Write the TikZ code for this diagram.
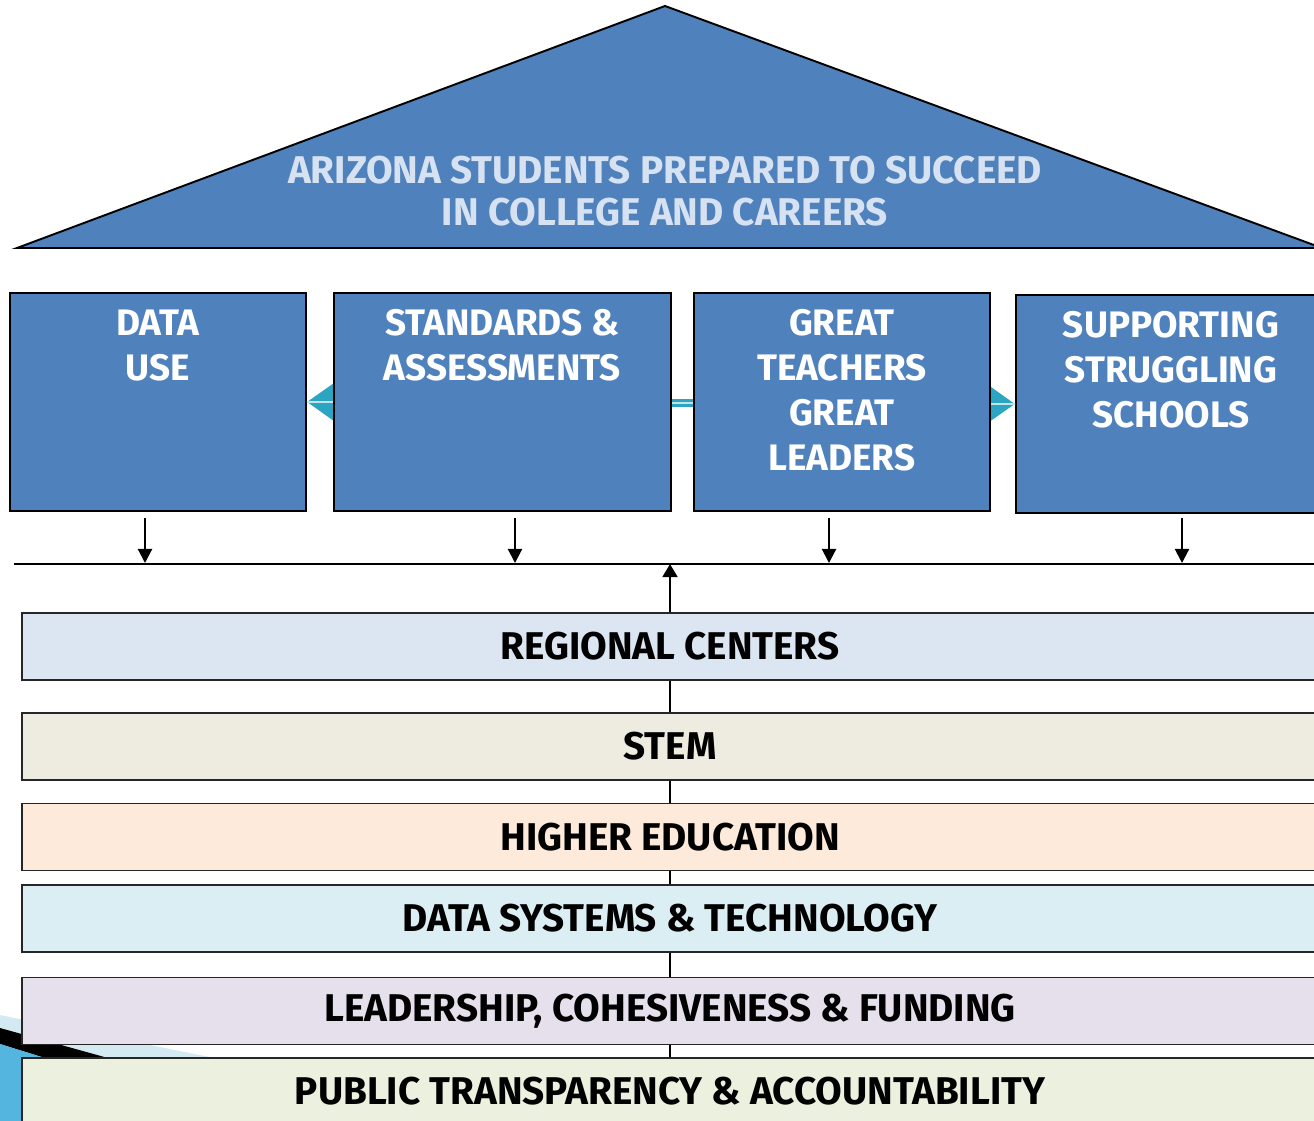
\documentclass[tikz,border=0pt]{standalone}
\usepackage{fontspec}
\setmainfont{Fira Sans}
\usetikzlibrary{arrows.meta,positioning}
\definecolor{roofblue}{RGB}{79,129,189}
\definecolor{rooftext}{RGB}{214,226,242}
\definecolor{linkteal}{RGB}{43,165,193}
\definecolor{regionfill}{RGB}{220,230,242}
\definecolor{stemfill}{RGB}{238,236,225}
\definecolor{higherfill}{RGB}{253,234,218}
\definecolor{datafill}{RGB}{219,238,244}
\definecolor{leadfill}{RGB}{229,224,236}
\definecolor{publicfill}{RGB}{235,241,222}
\definecolor{swooshblue}{RGB}{212,234,243}
\definecolor{cornerblue}{RGB}{84,182,222}

\begin{document}
\begin{tikzpicture}[x=0.02cm, y=-0.02cm, thick,
  pillar/.style = {draw=black, line width=1.1pt, fill=roofblue, anchor=north west, minimum height=4.36cm},
  pillartext/.style = {text=white, inner sep=0pt, align=center, font=\bfseries\fontsize{21}{25.6}\selectfont},
  band/.style = {draw=black!85, line width=0.9pt, minimum width=25.92cm, minimum height=1.34cm, inner sep=0pt, font=\bfseries\fontsize{22}{26}\selectfont},
  down/.style = {line width=1.2pt, -{Triangle[width=8pt,length=8pt]}}]
\useasboundingbox (0,0) rectangle (1314,1121);
\clip (0,0) rectangle (1314,1121);

% corner swoosh
\fill[swooshblue] (0,1015) -- (215,1058) -- (0,1058) -- cycle;
\fill[black] (0,1028) -- (108,1058) -- (45,1058) -- (0,1044) -- cycle;
\fill[cornerblue] (0,1044) -- (45,1058) -- (45,1121) -- (0,1121) -- cycle;

% roof
\draw[fill=roofblue, line width=1.1pt] (17,248) -- (665,6) -- (1322,248) -- cycle;
\node[text=rooftext, align=center, font=\bfseries\fontsize{22}{24}\selectfont] (goal) at (665,191)
  {ARIZONA STUDENTS PREPARED TO SUCCEED\\IN COLLEGE AND CAREERS};

% pillars
\node[pillar, minimum width=5.92cm] (data) at (9,292) {};
\node[pillar, minimum width=5.92cm] (teachers) at (693,292) {};
\node[pillar, minimum width=6.2cm] (support) at (1015,294) {};
\draw[linkteal, line width=4.5pt, {Triangle[width=20pt,length=15pt]}-{Triangle[width=20pt,length=15pt]}]
  (data.east) -- (support.west);
\draw[white!70!linkteal, line width=1pt] (data.east) -- (support.west);

% pillars in front of the link
\node[pillar, minimum width=6.74cm] (standards) at (333,292) {};
\node[pillar, minimum width=5.92cm] (teachers) at (693,292) {};

\node[pillartext, below=0.34cm of data.north] (datatxt) {DATA\\USE};
\node[pillartext, below=0.34cm of standards.north] (standardstxt) {STANDARDS \&\\ASSESSMENTS};
\node[pillartext, below=0.34cm of teachers.north] (teacherstxt) {GREAT\\TEACHERS\\GREAT\\LEADERS};
\node[pillartext, below=0.34cm of support.north] (supporttxt) {SUPPORTING\\STRUGGLING\\SCHOOLS};

% bus line
\coordinate (busL) at (14,564);
\coordinate (busR) at (1314,564);
\draw[line width=1.1pt] (busL) -- (busR);
\foreach \x/\n in {145/a, 515/b, 829/c, 1182/d} {
  \coordinate (top\n) at (\x,518);
  \coordinate (bus\n) at (\x,563);
  \draw[down] (top\n) -- (bus\n);
}

% foundation bands
\coordinate (spineT) at (670,680);
\coordinate (spineB) at (670,1121);
\draw[line width=1.1pt] (spineT) -- (spineB);
\node[band, fill=regionfill] (regional) at (670,646.5) {REGIONAL CENTERS};
\node[band, fill=stemfill] (stem) at (670,746.5) {STEM};
\node[band, fill=higherfill] (higher) at (670,837) {HIGHER EDUCATION};
\node[band, fill=datafill] (datasys) at (670,918.5) {DATA SYSTEMS \& TECHNOLOGY};
\node[band, fill=leadfill] (lead) at (670,1011) {LEADERSHIP, COHESIVENESS \& FUNDING};
\node[band, fill=publicfill] (public) at (670,1091.5) {PUBLIC TRANSPARENCY \& ACCOUNTABILITY};

\draw[line width=1.4pt, -{Triangle[width=8.5pt,length=7.5pt]}] (regional.north) -- (regional.north |- busL);
\end{tikzpicture}
\end{document}
